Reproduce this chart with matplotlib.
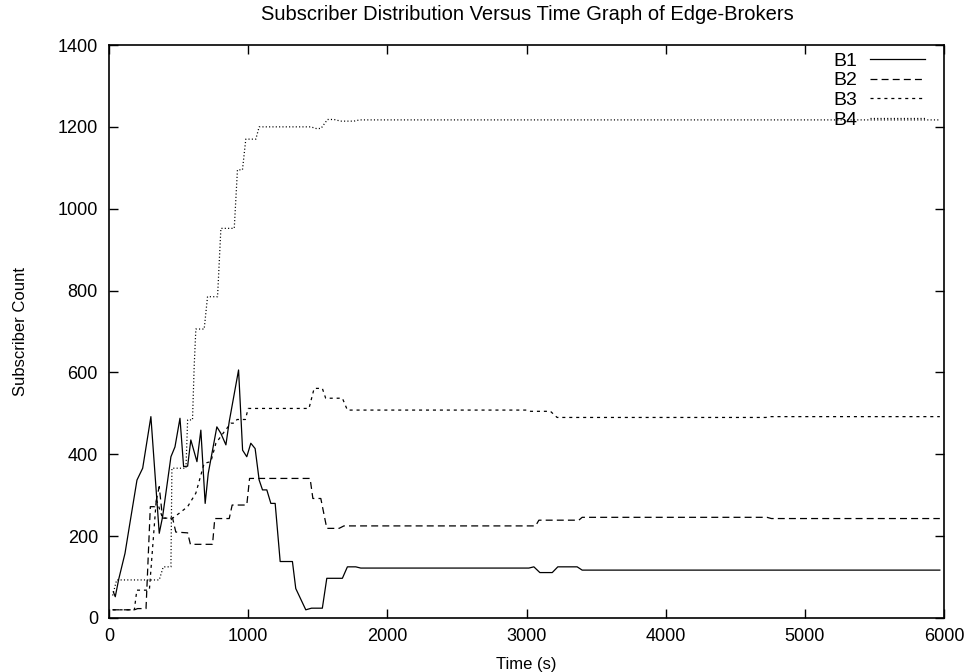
import matplotlib
matplotlib.use("Agg")
import matplotlib.pyplot as plt

# subscriber counts per edge broker, sampled at the change points
b1_t = [31, 45, 70, 115, 146, 201, 242, 301, 361, 385, 445, 474, 510, 536, 565,
        588, 632, 660, 691, 713, 775, 804, 840, 864, 931, 960, 990, 1019, 1050,
        1079, 1103, 1134, 1163, 1194, 1230, 1318, 1342, 1414, 1455, 1533, 1565,
        1677, 1713, 1773, 1809, 3017, 3053, 3096, 3185, 3225, 3364, 3400, 5970]
b1_v = [64, 52, 95, 158, 223, 337, 366, 492, 207, 247, 394, 418, 488, 370, 371,
        435, 382, 459, 280, 353, 467, 451, 423, 480, 606, 410, 394, 427, 414,
        337, 313, 313, 280, 280, 138, 138, 72, 20, 24, 24, 97,
        97, 125, 125, 122, 122, 125, 111, 111, 125, 125, 117, 117]

b2_t = [26, 182, 206, 266, 297, 330, 361, 385, 457, 480, 565, 585, 744, 760,
        864, 885, 990, 1010, 1445, 1465, 1522, 1565, 1653, 1688, 3065, 3089,
        3376, 3400, 4728, 4760, 5970]
b2_v = [20, 20, 23, 23, 272, 272, 321, 244, 244, 210, 208, 180, 180, 243,
        243, 276, 276, 341, 341, 292, 292, 219, 219, 225, 225, 239,
        239, 246, 246, 243, 243]

b3_t = [26, 182, 200, 290, 340, 385, 457, 505, 565, 624, 660, 684, 732, 768,
        828, 876, 900, 920, 980, 1000, 1437, 1474, 1533, 1557, 1677, 1713,
        3000, 3030, 3172, 3220, 4720, 4750, 5970]
b3_v = [20, 20, 68, 68, 290, 244, 244, 256, 272, 305, 349, 378, 382, 427,
        455, 476, 476, 485, 485, 512, 512, 561, 561, 537, 537, 508,
        508, 505, 505, 490, 490, 492, 492]

b4_t = [26, 55, 361, 390, 445, 452, 553, 565, 600, 612, 624, 684, 708, 780,
        804, 900, 923, 959, 983, 1055, 1079, 1450, 1488, 1523, 1570, 1617,
        1665, 1760, 1800, 5970]
b4_v = [55, 93, 93, 125, 125, 366, 366, 484, 484, 614, 706, 706, 785, 785,
        952, 952, 1095, 1095, 1170, 1170, 1200, 1200, 1196, 1196, 1218, 1218,
        1214, 1214, 1217, 1217]

series = [("B1", b1_t, b1_v, "-"),
          ("B2", b2_t, b2_v, (0, (5.0, 3.0))),
          ("B3", b3_t, b3_v, (0, (2.2, 2.8))),
          ("B4", b4_t, b4_v, (0, (0.8, 1.6)))]

plt.rcParams["font.family"] = ["Liberation Sans", "DejaVu Sans"]
plt.rcParams["font.size"] = 12
plt.rcParams["lines.scale_dashes"] = False

fig = plt.figure(figsize=(9.71, 6.72), dpi=100)
ax = fig.add_axes([109 / 971, 1 - 618 / 672, (944 - 109) / 971, (618 - 45) / 672])

for name, ts, vs, ls in series:
    ax.plot(ts, vs, color="black", lw=0.9, linestyle=ls, label=name)

ax.set_xlim(0, 6000)
ax.set_ylim(0, 1400)
ax.set_xticks(range(0, 6001, 1000))
ax.set_yticks(range(0, 1401, 200))
ax.tick_params(direction="in", length=6.5, width=1, top=True, right=True,
               labelsize=13)
ax.tick_params(axis="x", pad=7)
ax.tick_params(axis="y", pad=8)
for sp in ax.spines.values():
    sp.set_linewidth(1.2)

fig.text(527 / 971, 1 - 14 / 672,
         "Subscriber Distribution Versus Time Graph of Edge-Brokers",
         fontsize=14.5, ha="center", va="center")
ax.set_xlabel("Time (s)", fontsize=12, labelpad=9)
ax.set_ylabel("Subscriber Count", fontsize=12, labelpad=21)

# gnuplot-style key: label first, line sample after it
ax.legend(loc="upper left", bbox_to_anchor=(833 / 971, 1 - 52 / 672),
          bbox_transform=fig.transFigure, frameon=False, markerfirst=False,
          handlelength=2.83, handletextpad=0.67, labelspacing=0.11,
          borderaxespad=0, borderpad=0, fontsize=14)

fig.savefig("out.png", dpi=100)
